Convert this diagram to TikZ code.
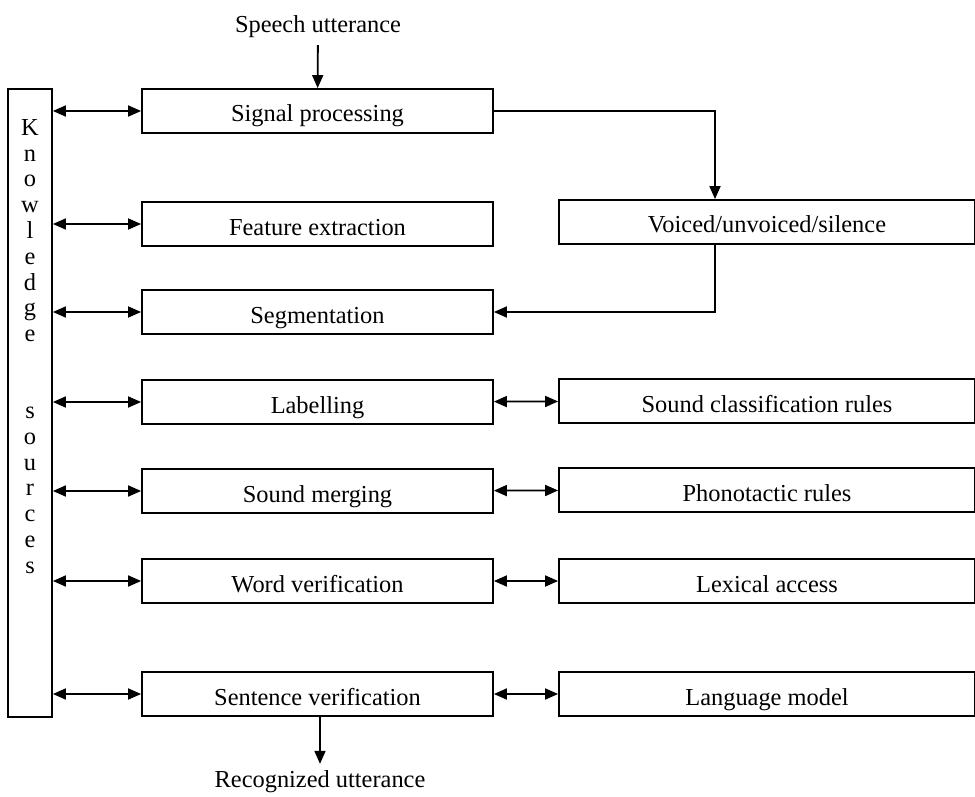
\documentclass[tikz,border=0pt]{standalone}
\usepackage{fontspec}
\setmainfont{Liberation Serif}
\usetikzlibrary{arrows.meta}
\tikzset{
  blk/.style={draw,line width=0.9pt,rectangle,minimum width=175.5pt,minimum height=22pt,inner sep=0pt,
    text height=12pt,text depth=1pt},
  rblk/.style={blk,minimum width=208pt},
  arr/.style={line width=0.9pt,-{Triangle[length=6.5pt,width=5.5pt]}},
  darr/.style={line width=0.9pt,{Triangle[length=6.5pt,width=5.5pt]}-{Triangle[length=6.5pt,width=5.5pt]}}
}

\begin{document}
\begin{tikzpicture}[x=0.5pt,y=-0.5pt,font=\fontsize{12.2}{12.9}\selectfont]
  \useasboundingbox (0,0) rectangle (975,797);
  % knowledge column
  \node[draw,line width=0.9pt,minimum width=22pt,minimum height=314pt,inner sep=0pt] (ks) at (30,403) {};
  \node[anchor=north,align=center,inner sep=0pt] (kstext) at (30,119)
    {K\\n\\o\\w\\l\\e\\d\\g\\e\\[25.5pt]s\\o\\u\\r\\c\\e\\s};
  % processing chain
  \node (in) at (318,27) {Speech utterance};
  \node[blk] (sp)  at (317.5,111) {Signal processing};
  \node[blk] (fe)  at (317.5,224) {Feature extraction};
  \node[blk] (seg) at (317.5,312) {Segmentation};
  \node[blk] (lab) at (317.5,402) {Labelling};
  \node[blk] (sm)  at (317.5,491) {Sound merging};
  \node[blk] (wv)  at (317.5,581) {Word verification};
  \node[blk] (sv)  at (317.5,694) {Sentence verification};
  \node (out) at (320,782) {Recognized utterance};
  % right column
  \node[rblk] (vu)  at (767,222) {Voiced/unvoiced/silence};
  \node[rblk] (scr) at (767,401) {Sound classification rules};
  \node[rblk] (pr)  at (767,490) {Phonotactic rules};
  \node[rblk] (la)  at (767,581) {Lexical access};
  \node[rblk] (lm)  at (767,694) {Language model};
  \coordinate (bend) at (715,0);

  \draw[arr] (in) -- (sp);
  \draw[arr] (sv.south -| out) -- (out.north);
  \draw[arr] (sp.east) -| (bend |- vu.north);
  \draw[arr] (bend |- vu.south) |- (seg.east);
  \foreach \b in {sp,fe,seg,lab,sm,wv,sv}
    \draw[darr] (ks.east |- \b.west) -- (\b.west);
  \draw[darr] (lab) -- (scr);
  \draw[darr] (sm) -- (pr);
  \draw[darr] (wv) -- (la);
  \draw[darr] (sv) -- (lm);
\end{tikzpicture}
\end{document}
